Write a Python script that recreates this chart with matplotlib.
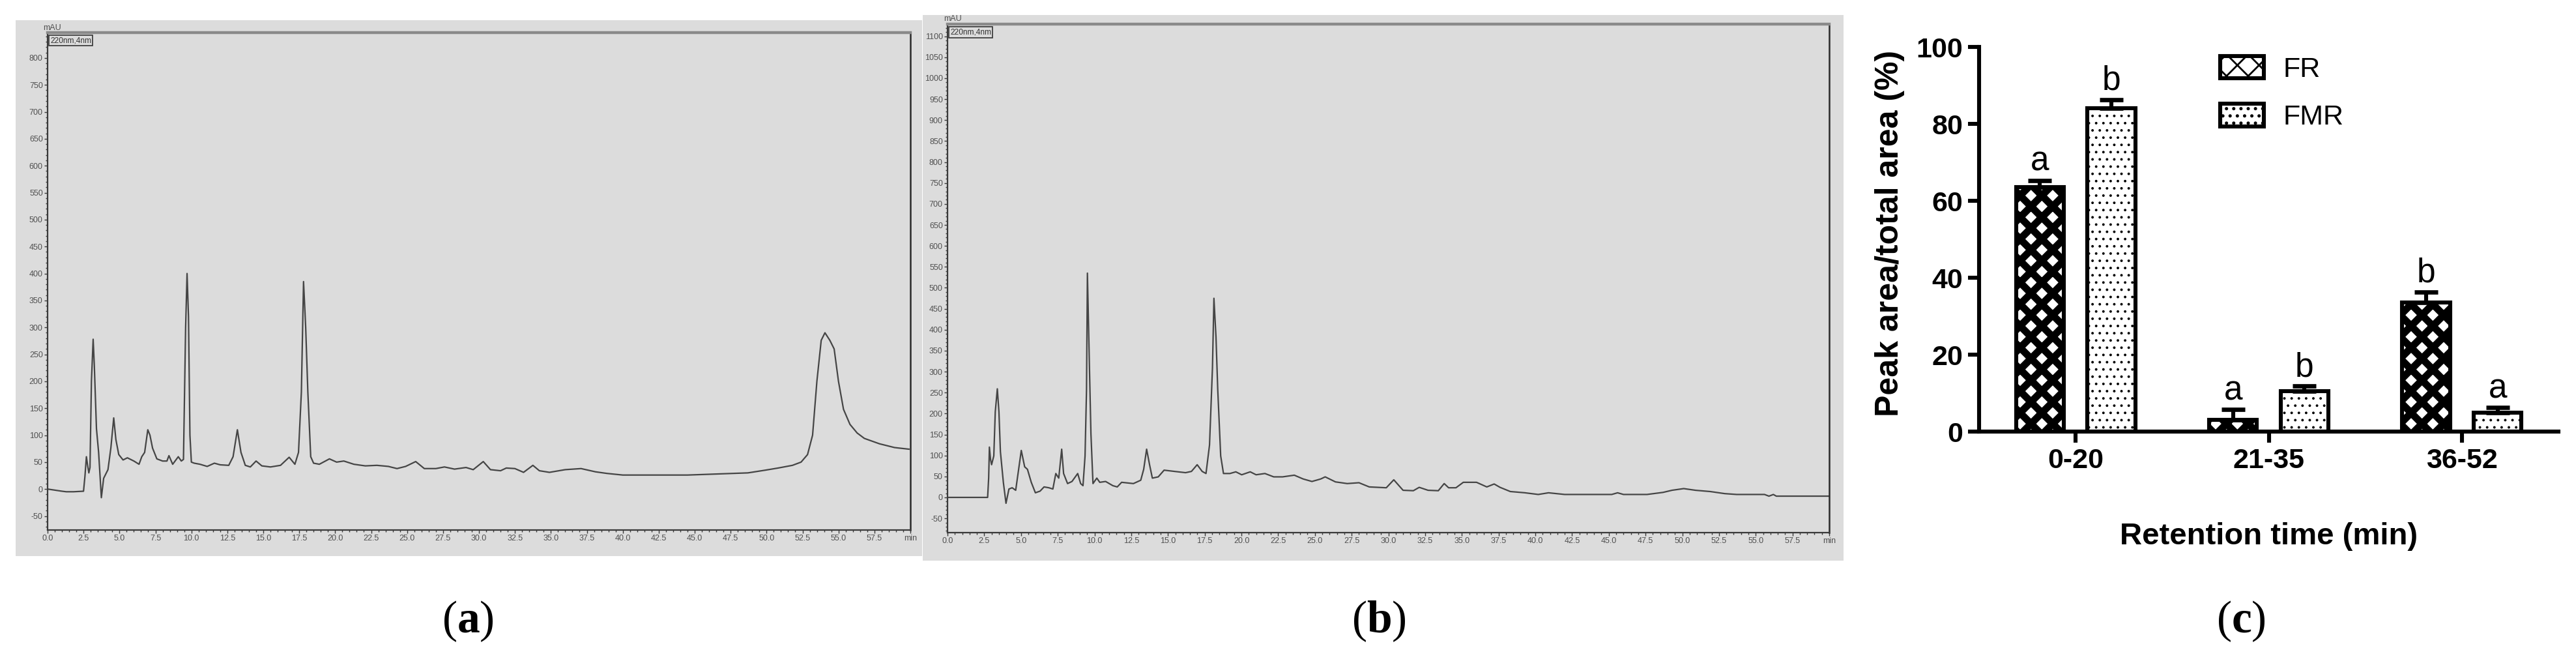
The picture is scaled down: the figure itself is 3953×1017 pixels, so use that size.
import numpy as np
import matplotlib
matplotlib.use('Agg')
import matplotlib.pyplot as plt
from matplotlib.patches import Rectangle
from matplotlib.ticker import MultipleLocator, FixedLocator

W, H, DPI = 3953, 1017, 200

plt.rcParams['font.family'] = ['Liberation Sans', 'DejaVu Sans']
plt.rcParams['mathtext.fontset'] = 'custom'
plt.rcParams['mathtext.rm'] = 'Liberation Serif'
plt.rcParams['mathtext.bf'] = 'Liberation Serif:bold'

# ---- chromatogram (a): time (min), signal (mAU)
a_time = [0.0, 0.5, 1.0, 1.3, 1.8, 2.5, 2.6, 2.7, 2.78, 2.87, 2.95, 3.05, 3.17, 3.25,
          3.4, 3.55, 3.74, 3.9, 4.2, 4.4, 4.6, 4.75, 4.95, 5.25, 5.55, 6.0, 6.36, 6.55,
          6.75, 6.97, 7.12, 7.3, 7.6, 8.0, 8.3, 8.44, 8.7, 9.09, 9.3, 9.45, 9.6, 9.7,
          9.8, 9.9, 10.0, 10.2, 10.6, 11.1, 11.6, 12.0, 12.6, 12.9, 13.2, 13.45, 13.75,
          14.1, 14.5, 14.9, 15.5, 16.2, 16.8, 17.2, 17.45, 17.65, 17.8, 17.95, 18.1,
          18.3, 18.5, 18.9, 19.6, 20.1, 20.6, 21.3, 22.1, 22.9, 23.7, 24.3, 24.9, 25.6,
          26.2, 27.0, 27.6, 28.3, 29.1, 29.6, 30.3, 30.8, 31.5, 31.9, 32.5, 33.1, 33.75,
          34.2, 34.9, 36.0, 37.1, 38.1, 38.9, 40.0, 44.5, 46.6, 48.7, 49.9, 50.8, 51.8,
          52.4, 52.85, 53.2, 53.5, 53.8, 54.06, 54.4, 54.7, 55.0, 55.35, 55.8, 56.3,
          56.8, 57.85, 58.9, 59.9]
a_mau = [0, -2, -4, -5, -5, -4, 24, 60, 45, 30, 40, 200, 278, 230,
         112, 68, -16, 20, 36, 76, 132, 92, 64, 54, 58, 52, 46, 60,
         68, 110, 100, 76, 56, 52, 52, 62, 46, 60, 52, 55, 300, 400,
         320, 100, 50, 48, 46, 42, 48, 45, 44, 60, 110, 68, 44,
         41, 52, 43, 41, 44, 59, 46, 68, 180, 385, 300, 180,
         60, 48, 46, 56, 50, 52, 46, 43, 44, 42, 38, 42, 51,
         38, 38, 41, 37, 40, 36, 51, 36, 34, 39, 38, 31, 44,
         34, 31, 36, 38, 32, 29, 26, 26, 28, 30, 35, 39, 44,
         50, 64, 100, 200, 276, 290, 276, 260, 200, 148, 120, 104,
         94, 84, 77, 74]

# ---- chromatogram (b)
b_time = [0.0, 2.73, 2.8, 2.85, 2.93, 3.0, 3.15, 3.25, 3.39, 3.5, 3.6, 3.8, 3.98, 4.18,
          4.4, 4.64, 4.8, 5.02, 5.25, 5.44, 5.7, 5.98, 6.3, 6.57, 6.9, 7.17, 7.37, 7.57,
          7.77, 7.9, 8.17, 8.47, 8.86, 9.06, 9.22, 9.36, 9.46, 9.52, 9.66, 9.76, 9.9,
          10.16, 10.36, 10.76, 11.25, 11.55, 11.85, 12.65, 13.15, 13.35, 13.55, 13.75,
          13.94, 14.34, 14.74, 15.45, 16.2, 16.6, 16.99, 17.33, 17.59, 17.83, 18.03,
          18.13, 18.27, 18.39, 18.59, 18.78, 19.22, 19.62, 20.02, 20.6, 21.0, 21.6,
          22.2, 22.8, 23.6, 24.2, 24.8, 25.4, 25.7, 26.4, 27.2, 28.0, 28.7, 29.86,
          30.37, 31.0, 31.7, 32.1, 32.7, 33.4, 33.8, 34.1, 34.6, 35.1, 36.0, 36.7,
          37.2, 37.6, 38.3, 39.3, 40.2, 40.9, 42.0, 45.2, 45.6, 46.0, 47.6, 48.7,
          49.3, 50.1, 50.9, 51.9, 52.9, 53.7, 55.6, 55.9, 56.2, 56.4, 60.0]
b_mau = [0, 0, 46, 120, 90, 78, 99, 204, 259, 204, 109, 36, -14, 20,
         23, 17, 57, 112, 73, 67, 36, 11, 15, 25, 23, 20, 57, 46,
         115, 57, 33, 38, 57, 33, 28, 99, 257, 535, 309, 152, 33,
         46, 36, 38, 28, 25, 36, 33, 41, 67, 115, 78,
         46, 49, 65, 62, 59, 62, 78, 62, 57, 125, 309,
         475, 383, 257, 99, 57, 57, 61, 54, 61, 54, 57,
         49, 49, 53, 44, 38, 44, 49, 37, 33, 35, 25, 23,
         42, 17, 16, 24, 17, 16, 33, 23, 23, 36, 36, 25,
         32, 24, 14, 11, 7, 11, 7, 7, 11, 7, 7, 12,
         17, 21, 17, 14, 9, 7, 7, 3, 7, 3, 3]

chrom_xticks = np.arange(0, 60.1, 2.5)
a_yticks = np.arange(-50, 801, 50)
b_yticks = np.arange(-50, 1101, 50)

# ---- bar chart (c)
ranges = ['0-20', '21-35', '36-52']
fr_mean = [63.5, 3.0, 33.5]
fr_sd = [1.8, 2.7, 2.8]
fmr_mean = [84.0, 10.5, 5.0]
fmr_sd = [2.3, 1.3, 1.2]
fr_sig = ['a', 'a', 'b']
fmr_sig = ['b', 'b', 'a']
bar_yticks = [0, 20, 40, 60, 80, 100]

GRAY = '#dcdcdc'


def fx(x):
    return x / W


def fy(y):
    return 1 - y / H


def fbox(x0, y0, x1, y1):
    # pixel box, top-left origin -> [left, bottom, width, height]
    return [x0 / W, 1 - y1 / H, (x1 - x0) / W, (y1 - y0) / H]


fig = plt.figure(figsize=(W / DPI, H / DPI), dpi=DPI)


def chromatogram(bg, box, t, v, yticks, ylim, mau_xy):
    r = fbox(*bg)
    fig.add_artist(Rectangle((r[0], r[1]), r[2], r[3], transform=fig.transFigure,
                             facecolor=GRAY, edgecolor='none', zorder=-1))
    ax = fig.add_axes(fbox(*box))
    ax.set_facecolor(GRAY)
    ax.plot(t, v, color='#454545', lw=0.8)
    ax.set_xlim(0, 60)
    ax.set_ylim(*ylim)
    ax.xaxis.set_major_locator(FixedLocator(chrom_xticks))
    ax.set_xticklabels([f'{x:.1f}' for x in chrom_xticks[:-1]] + ['min'])
    ax.xaxis.set_minor_locator(MultipleLocator(0.5))
    ax.yaxis.set_major_locator(FixedLocator(yticks))
    ax.set_yticklabels([str(int(y)) for y in yticks])
    ax.yaxis.set_minor_locator(MultipleLocator(10))
    ax.tick_params(which='both', direction='out', color='#3a3a3a',
                   labelcolor='#505050', labelsize=4.5, width=0.5)
    ax.tick_params(which='major', length=1.8, pad=0.8)
    ax.tick_params(which='minor', length=1.0)
    for s in ['left', 'bottom']:
        ax.spines[s].set_color('#3a3a3a')
        ax.spines[s].set_linewidth(0.8)
    ax.spines['top'].set_color('#8a8a8a')
    ax.spines['top'].set_linewidth(1.6)
    ax.spines['right'].set_color('#2a2a2a')
    ax.spines['right'].set_linewidth(0.9)
    fig.text(fx(mau_xy[0]), fy(mau_xy[1]), 'mAU', ha='center', va='center',
             fontsize=4.5, color='#505050')
    ax.text(0.003, 0.992, '220nm,4nm', transform=ax.transAxes, ha='left', va='top',
            fontsize=4.3, color='#333333',
            bbox=dict(boxstyle='square,pad=0.2', fc='none', ec='#333333', lw=0.6))
    return ax


ax_a = chromatogram((24, 31, 1415, 853), (73, 50, 1397, 813), a_time, a_mau,
                    a_yticks, (-76, 847), (80, 43))
ax_b = chromatogram((1416, 23, 2829, 860), (1454, 37, 2807, 817), b_time, b_mau,
                    b_yticks, (-84, 1129), (1462, 29))

# ---- panel (c)
axc = fig.add_axes(fbox(3037, 72, 3926, 662))
x = np.arange(len(ranges))
off, bw = 0.185, 0.247


def hatch_lw(patches, lw):
    for p in patches:
        if hasattr(p, 'set_hatch_linewidth'):
            p.set_hatch_linewidth(lw)


bars_fr = axc.bar(x - off, fr_mean, bw, color='white', edgecolor='black', lw=2.2,
                  hatch='xx', label='FR', zorder=2)
bars_fmr = axc.bar(x + off, fmr_mean, bw, color='white', edgecolor='black', lw=2.2,
                   hatch='...', label='FMR', zorder=2)
hatch_lw(bars_fr, 4.0)
hatch_lw(bars_fmr, 0.6)

for xs, m, s in [(x - off, fr_mean, fr_sd), (x + off, fmr_mean, fmr_sd)]:
    axc.errorbar(xs, m, yerr=[np.zeros(len(m)), s], fmt='none', ecolor='black',
                 elinewidth=2.2, capsize=6.5, capthick=2.4, zorder=3)

for xs, m, s, sig in [(x - off, fr_mean, fr_sd, fr_sig), (x + off, fmr_mean, fmr_sd, fmr_sig)]:
    for xi, mi, si, lab in zip(xs, m, s, sig):
        axc.text(xi, mi + si + 2.6, lab, ha='center', va='baseline', fontsize=18.5)

axc.set_xlim(-0.5, 2.5)
axc.set_ylim(0, 100)
axc.set_xticks(x)
axc.set_xticklabels(ranges)
axc.set_yticks(bar_yticks)
for s in ['top', 'right']:
    axc.spines[s].set_visible(False)
for s in ['left', 'bottom']:
    axc.spines[s].set_linewidth(2.2)
axc.tick_params(length=6, width=2.2, pad=3, labelsize=15.5)
for lab in axc.get_xticklabels() + axc.get_yticklabels():
    lab.set_fontweight('bold')

axc.set_ylabel('Peak area/total area (%)', fontsize=18, fontweight='bold')
axc.yaxis.set_label_coords(-0.128, 0.515)
axc.set_xlabel('Retention time (min)', fontsize=17, fontweight='bold')
axc.xaxis.set_label_coords(0.5, -0.236)

leg = axc.legend(loc='upper left', bbox_to_anchor=(fx(3407), fy(86)),
                 bbox_transform=fig.transFigure, frameon=False,
                 prop={'family': 'Liberation Sans', 'size': 15.5},
                 handlelength=1.55, handleheight=0.85, handletextpad=0.7,
                 labelspacing=0.75, borderpad=0, borderaxespad=0)

# ---- panel captions
for cx, letter in [(718, 'a'), (2116, 'b'), (3439, 'c')]:
    fig.text(fx(cx), fy(953), '($\\mathbf{' + letter + '}$)', ha='center', va='center',
             fontsize=25, family='Liberation Serif')

fig.savefig('out.png', dpi=DPI)
